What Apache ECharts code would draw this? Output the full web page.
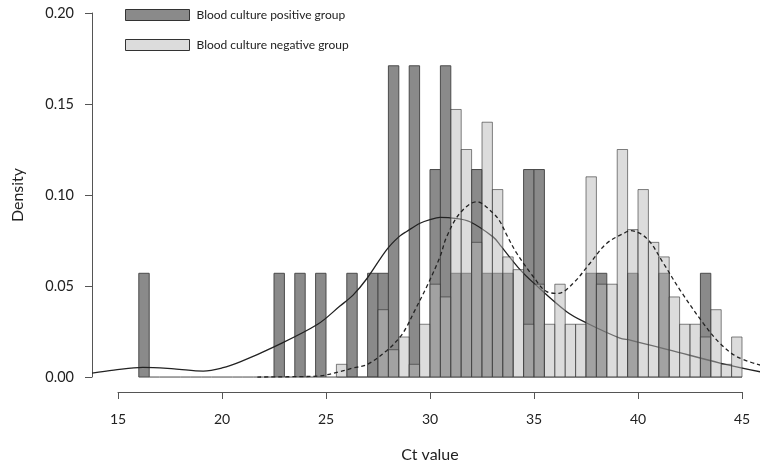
<!DOCTYPE html>
<html><head><meta charset="utf-8">
<script src="https://cdn.jsdelivr.net/npm/echarts@6/dist/echarts.min.js"></script>
<style>html,body{margin:0;padding:0;background:#fff}#c{width:760px;height:468px}</style>
</head><body><div id="c"></div>
<script>
const BIN_WIDTH = 0.5;
const seriesNames = ['Blood culture positive group', 'Blood culture negative group'];

const posBinStart = [16.0,16.5,17.0,17.5,18.0,18.5,19.0,19.5,20.0,20.5,21.0,21.5,22.0,22.5,23.0,23.5,24.0,24.5,25.0,25.5,26.0,26.5,27.0,27.5,28.0,28.5,29.0,29.5,30.0,30.5,31.0,31.5,32.0,32.5,33.0,33.5,34.0,34.5,35.0,35.5,36.0,36.5,37.0,37.5,38.0,38.5,39.0,39.5,40.0,40.5,41.0,41.5,42.0,42.5,43.0,43.5,44.0,44.5];
const posDensity = [0.057,0,0,0,0,0,0,0,0,0,0,0,0,
  0.057,0,0.057,0,0.057,0,0,0.057,0,0.057,
  0.057,0.171,0,0.171,0,0.114,0.171,0.057,0.057,0.114,
  0.057,0.057,0.057,0,0.114,0.114,0,0,0,0,
  0.057,0.057,0,0,0.057,0,0,0.057,0,0,
  0,0.057,0,0,0];

const negBinStart = [25.5,26.0,26.5,27.0,27.5,28.0,28.5,29.0,29.5,30.0,30.5,31.0,31.5,32.0,32.5,33.0,33.5,34.0,34.5,35.0,35.5,36.0,36.5,37.0,37.5,38.0,38.5,39.0,39.5,40.0,40.5,41.0,41.5,42.0,42.5,43.0,43.5,44.0,44.5];
const negDensity = [0.007,0,0,0,0.037,0.015,0.022,0.007,0.029,0.051,0.044,0.147,0.125,0.074,0.140,0.103,0.066,0.059,0.029,0.051,0.029,0.051,0.029,0.029,0.110,0.051,0.051,0.125,0.081,0.103,0.074,0.066,0.044,0.029,0.029,0.022,0.037,0.007,0.022];

const posCurveX = [13.75,14.8,16.2,17.7,19.1,20.0,20.9,22.5,24.6,25.67,26.3,26.96,27.92,28.5,28.88,29.52,30.0,30.48,31.2,31.92,33.03,33.37,34.33,34.95,36.57,37.53,39.13,39.62,41.54,43.94,45.87];
const posCurveY = [0.0022,0.0038,0.0053,0.0045,0.0033,0.0050,0.0085,0.0166,0.029,0.039,0.045,0.054,0.070,0.077,0.080,0.0845,0.0865,0.0877,0.0872,0.0853,0.077,0.0725,0.059,0.052,0.0359,0.0297,0.0214,0.0203,0.0148,0.0077,0.0029];

const negCurveX = [21.7,24.07,24.71,25.67,26.31,26.96,27.92,28.56,28.88,29.2,29.84,30.48,30.8,31.44,32.24,33.04,33.37,33.69,34.17,34.97,35.61,36.17,36.88,37.69,38.5,39.46,39.62,40.42,41.22,42.02,43.14,43.94,44.75,45.87];
const negCurveY = [0.0,0.0003,0.0006,0.003,0.005,0.0068,0.0145,0.022,0.0276,0.035,0.0496,0.066,0.077,0.090,0.0963,0.090,0.0853,0.078,0.068,0.0551,0.0469,0.046,0.0515,0.0625,0.0735,0.0798,0.0804,0.0762,0.0625,0.0478,0.0295,0.0185,0.0112,0.0066];

const xTickValues = [15,20,25,30,35,40,45];
const yTickValues = [0,0.05,0.10,0.15,0.20];

const FONT = 'Lato';
const POS_FILL = '#8a8a8a';
const NEG_FILL = 'rgba(185,185,185,0.5)';

function barSeries(name, starts, dens, fill, stroke, z) {
  return {
    name: name, type: 'custom', xAxisIndex: 0, yAxisIndex: 0, z: z,
    itemStyle: { color: fill },
    data: starts.map((s, i) => [s, dens[i]]),
    encode: { x: 0, y: 1 },
    renderItem: function (params, api) {
      const x0 = api.value(0), h = api.value(1);
      const p0 = api.coord([x0, 0]);
      const p1 = api.coord([x0 + BIN_WIDTH, h]);
      if (h === 0) {
        return { type: 'line', shape: { x1: p0[0], y1: p0[1], x2: p1[0], y2: p0[1] },
          style: { stroke: stroke, lineWidth: 1 } };
      }
      return { type: 'rect',
        shape: { x: p0[0], y: p1[1], width: p1[0] - p0[0], height: p0[1] - p1[1] },
        style: { fill: fill, stroke: stroke, lineWidth: 1 } };
    }
  };
}

const chart = echarts.init(document.getElementById('c'), null, { renderer: 'canvas' });
chart.setOption({
  animation: false,
  backgroundColor: '#fff',
  textStyle: { fontFamily: FONT },
  legend: {
    orient: 'vertical', left: 120, top: 4, itemWidth: 64, itemHeight: 11, itemGap: 18,
    selectedMode: false,
    textStyle: { fontFamily: FONT, fontSize: 12, color: '#222', padding: [0, 0, 0, 2] },
    data: [
      { name: seriesNames[0], icon: 'rect', itemStyle: { color: POS_FILL, borderColor: '#333', borderWidth: 1 } },
      { name: seriesNames[1], icon: 'rect', itemStyle: { color: '#dcdcdc', borderColor: '#333', borderWidth: 1 } }
    ]
  },
  grid: [
    { left: 92, right: 0, top: 13, bottom: 76.4 },
    { left: 118, right: 18, top: 13, bottom: 75 },
    { left: 92, width: 10, top: 13, bottom: 91 }
  ],
  xAxis: [
    { gridIndex: 0, type: 'value', min: 13.75, max: 45.865, show: false },
    { gridIndex: 1, type: 'value', min: xTickValues[0], max: xTickValues[xTickValues.length - 1], interval: 5,
      axisLine: { lineStyle: { color: '#555', width: 1 } },
      axisTick: { length: 7, lineStyle: { color: '#555' } },
      splitLine: { show: false },
      axisLabel: { margin: 20, fontSize: 14, color: '#222', fontFamily: FONT },
      name: 'Ct value', nameLocation: 'middle', nameGap: 55,
      nameTextStyle: { fontSize: 16, color: '#222', fontFamily: FONT } },
    { gridIndex: 2, type: 'value', show: false }
  ],
  yAxis: [
    { gridIndex: 0, type: 'value', min: -0.008, max: 0.2, show: false },
    { gridIndex: 1, type: 'value', show: false },
    { gridIndex: 2, type: 'value', min: yTickValues[0], max: yTickValues[yTickValues.length - 1], interval: 0.05,
      axisLine: { show: true, lineStyle: { color: '#555', width: 1 } },
      axisTick: { show: true, length: 7, lineStyle: { color: '#555' } },
      splitLine: { show: false },
      axisLabel: { margin: 18, fontSize: 14.5, color: '#222', fontFamily: FONT, formatter: v => v.toFixed(2) },
      name: 'Density', nameLocation: 'middle', nameGap: 66,
      nameTextStyle: { fontSize: 16, color: '#222', fontFamily: FONT } }
  ],
  series: [
    barSeries(seriesNames[0], posBinStart, posDensity, POS_FILL, '#4a4a4a', 1),
    { type: 'line', xAxisIndex: 0, yAxisIndex: 0, z: 2, smooth: 0.35, showSymbol: false, silent: true,
      data: posCurveX.map((x, i) => [x, posCurveY[i]]),
      lineStyle: { color: '#222', width: 1.3 } },
    barSeries(seriesNames[1], negBinStart, negDensity, NEG_FILL, 'rgba(50,50,50,0.6)', 3),
    { type: 'line', xAxisIndex: 0, yAxisIndex: 0, z: 4, smooth: 0.35, showSymbol: false, silent: true,
      data: negCurveX.map((x, i) => [x, negCurveY[i]]),
      lineStyle: { color: '#222', width: 1.3, type: [4, 3] } }
  ]
});
</script></body></html>
